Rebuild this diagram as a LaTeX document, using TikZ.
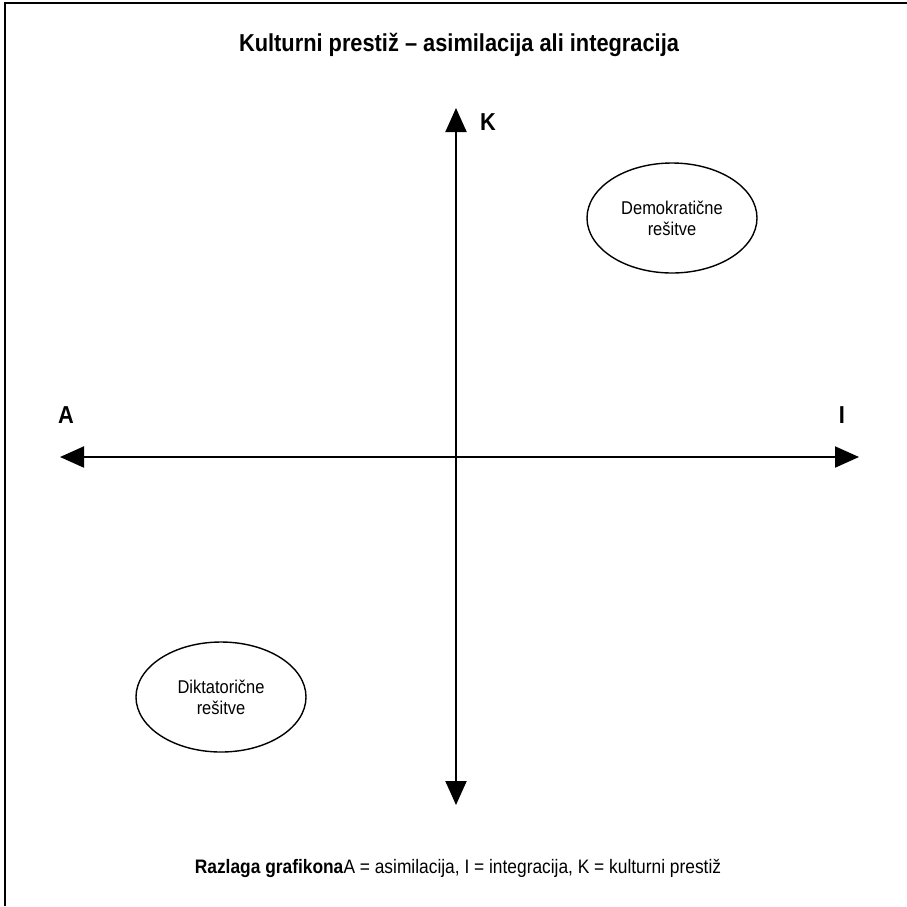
\documentclass[tikz,border=0pt]{standalone}
\usepackage{fontspec}
\setmainfont[FakeStretch=0.89]{Liberation Sans}
\usetikzlibrary{arrows.meta,shapes.geometric}
\tikzset{os/.style={ line width=2pt, {Triangle[length=24pt,width=21pt]}-{Triangle[length=24pt,width=21pt]}}}
\tikzset{oval/.style={ draw, ellipse, line width=1.4pt, minimum width=170pt, minimum height=110pt, align=center, font=\fontsize{18.5}{21}\selectfont}}
\tikzset{oznaka/.style={ font=\bfseries\fontsize{24.5}{27}\selectfont}}

\begin{document}
\begin{tikzpicture}[x=1pt, y=-1pt]
\useasboundingbox (0,0) rectangle (907,906);
\draw[line width=2pt] (5,906) -- (5,3) -- (907,3);
\node[oznaka] (naslov) at (459,45) {Kulturni prestiž – asimilacija ali integracija};
% osi
\coordinate (gor) at (456,108);
\coordinate (dol) at (456,805);
\coordinate (levo) at (60,457);
\coordinate (desno) at (859,457);
\draw[os] (dol) -- (gor);
\draw[os] (levo) -- (desno);
\node[oznaka] (K) at (488,122) {K};
\node[oznaka] (A) at (66,415) {A};
\node[oznaka] (I) at (842,415) {I};
% resitve
\node[oval] (demo) at (672,218) {Demokratične\\rešitve};
\node[oval] (dikt) at (221,697) {Diktatorične\\rešitve};
\node[font=\fontsize{19.5}{22}\selectfont] (razlaga) at (458,868) {\textbf{Razlaga grafikona}A = asimilacija, I = integracija, K = kulturni prestiž};
\end{tikzpicture}
\end{document}
